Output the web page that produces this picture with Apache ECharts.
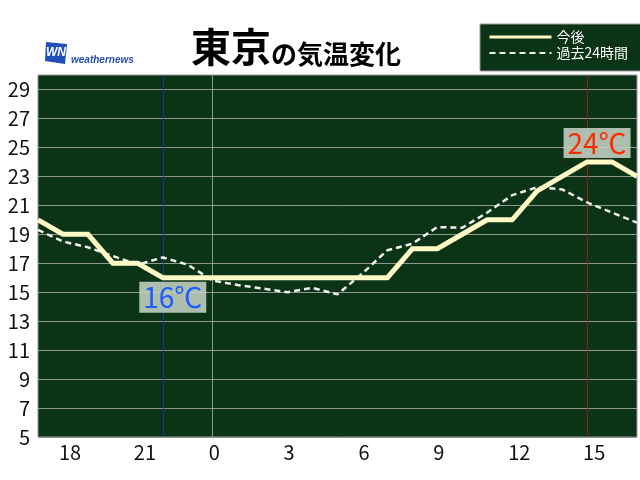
<!DOCTYPE html>
<html>
<head>
<meta charset="utf-8">
<script src="https://cdn.jsdelivr.net/npm/echarts@6/dist/echarts.min.js"></script>
<style>html,body{margin:0;padding:0;background:#fff;}#c{width:640px;height:480px;}</style>
</head>
<body>
<div id="c"></div>
<script>
// Hours relative to midnight (17:00 previous day .. 17:00)
const hours = [-7,-6,-5,-4,-3,-2,-1,0,1,2,3,4,5,6,7,8,9,10,11,12,13,14,15,16,17];
// 今後 (forecast)
const forecast = [20,19,19,17,17,16,16,16,16,16,16,16,16,16,16,18,18,19,20,20,22,23,24,24,23];
// 過去24時間 (past 24 hours)
const past = [19.3,18.5,18.1,17.5,16.9,17.4,16.9,15.8,15.5,15.25,15.0,15.3,14.85,16.3,17.9,18.35,19.5,19.45,20.5,21.7,22.25,22.1,21.2,20.5,19.8];
const xTickHours = [-6,-3,0,3,6,9,12,15];
const yTicks = [5,7,9,11,13,15,17,19,21,23,25,27,29];
const dayBoundary = [0];
const seriesNames = ['今後','過去24時間'];
const titleMain = '東京';
const titleSub = 'の気温変化';

const fontJP = '"Noto Sans CJK JP", "Noto Sans", sans-serif';
const minIdx = forecast.indexOf(Math.min(...forecast));
const maxIdx = forecast.indexOf(Math.max(...forecast));
const minPt = [hours[minIdx], forecast[minIdx]];
const maxPt = [hours[maxIdx], forecast[maxIdx]];
const toPairs = vals => hours.map((h, i) => [h, vals[i]]);
const labelShift = 0.16;

const chart = echarts.init(document.getElementById('c'), null, {renderer: 'canvas'});
chart.setOption({
  animation: false,
  backgroundColor: '#ffffff',
  textStyle: {fontFamily: fontJP},
  title: {
    text: '{a|' + titleMain + '}{b|' + titleSub + '}',
    left: 186, top: 12,
    textStyle: {
      rich: {
        a: {fontSize: 40, fontWeight: 'bold', color: '#000', fontFamily: fontJP, verticalAlign: 'bottom', lineHeight: 50},
        b: {fontSize: 26, fontWeight: 'bold', color: '#000', fontFamily: fontJP, verticalAlign: 'bottom', lineHeight: 44}
      }
    }
  },
  legend: {
    left: 480, top: 24,
    orient: 'vertical',
    itemWidth: 62, itemHeight: 14, itemGap: 2,
    backgroundColor: '#0b3315',
    borderColor: '#9a9a9a', borderWidth: 1, borderRadius: 0,
    padding: [6, 16, 11, 8],
    textStyle: {color: '#ffffff', fontSize: 14, fontFamily: fontJP},
    itemStyle: {opacity: 0},
    selectedMode: false,
    data: [
      {name: seriesNames[0], lineStyle: {width: 3}, itemStyle: {opacity: 0}},
      {name: seriesNames[1], lineStyle: {width: 2}, itemStyle: {opacity: 0}}
    ]
  },
  grid: {
    left: 38, right: 3, top: 75, bottom: 43,
    show: true, backgroundColor: '#0b3315', borderColor: '#9a9a9a', borderWidth: 1
  },
  xAxis: [{
    type: 'value', min: hours[0], max: hours[hours.length - 1],
    axisLine: {show: false}, axisTick: {show: false, customValues: dayBoundary},
    axisLabel: {show: false},
    splitLine: {show: true, lineStyle: {color: '#8f9a8f', width: 1}}
  }, {
    type: 'value', min: hours[0] + labelShift, max: hours[hours.length - 1] + labelShift,
    position: 'bottom',
    axisLine: {show: false}, axisTick: {show: false}, splitLine: {show: false},
    axisLabel: {
      customValues: xTickHours, align: 'left', margin: 5,
      fontSize: 20, color: '#111', fontFamily: fontJP,
      formatter: v => String(((Math.round(v) % 24) + 24) % 24)
    }
  }],
  yAxis: {
    type: 'value', min: 5, max: 30,
    axisLine: {show: false},
    axisTick: {show: false, customValues: yTicks},
    axisLabel: {customValues: yTicks, fontSize: 20, color: '#111', margin: 8, fontFamily: fontJP},
    splitLine: {show: true, lineStyle: {color: '#8f9a8f', width: 1}}
  },
  series: [{
    name: seriesNames[1], type: 'line', symbol: 'none', xAxisIndex: 0,
    data: toPairs(past),
    lineStyle: {color: '#f2f2f2', width: 2.5, type: [6, 4]},
    itemStyle: {color: '#f2f2f2'},
    z: 3
  }, {
    name: seriesNames[0], type: 'line', symbol: 'none', xAxisIndex: 0,
    data: toPairs(forecast),
    lineStyle: {color: '#fffac6', width: 5, join: 'miter'},
    itemStyle: {color: '#fffac6'},
    z: 4,
    markLine: {
      silent: true, symbol: 'none', label: {show: false},
      data: [
        {xAxis: minPt[0], lineStyle: {color: '#1b3aa0', width: 1, type: 'solid'}},
        {xAxis: maxPt[0], lineStyle: {color: '#a01a0a', width: 1, type: 'solid'}}
      ],
      z: 2
    },
    markPoint: {
      silent: true, symbol: 'rect', symbolSize: 0,
      data: [
        {coord: minPt, label: {show: true, formatter: minPt[1] + '℃', offset: [10, 19.5],
          color: '#1a5cff', fontSize: 28, fontFamily: fontJP,
          backgroundColor: 'rgba(196,208,196,0.88)', width: 67, height: 31, lineHeight: 31,
          align: 'center', verticalAlign: 'middle', padding: 0}},
        {coord: maxPt, label: {show: true, formatter: maxPt[1] + '℃', offset: [10, -19],
          color: '#ff2a00', fontSize: 28, fontFamily: fontJP,
          backgroundColor: 'rgba(196,208,196,0.88)', width: 67, height: 30, lineHeight: 30,
          align: 'center', verticalAlign: 'middle', padding: 0}}
      ]
    }
  }],
  graphic: [
    {type: 'polygon', shape: {points: [[46,42],[67,44],[65,64],[45,61]]}, style: {fill: '#1f4fb8'}},
    {type: 'text', x: 56, y: 53, style: {text: 'WN', fill: '#fff', font: 'italic bold 12px "Liberation Sans", sans-serif', align: 'center', verticalAlign: 'middle'}},
    {type: 'text', x: 71, y: 60, style: {text: 'weathernews', fill: '#2450b0', font: 'italic bold 10px "Liberation Sans", sans-serif', align: 'left', verticalAlign: 'middle'}}
  ]
});
</script>
</body>
</html>
